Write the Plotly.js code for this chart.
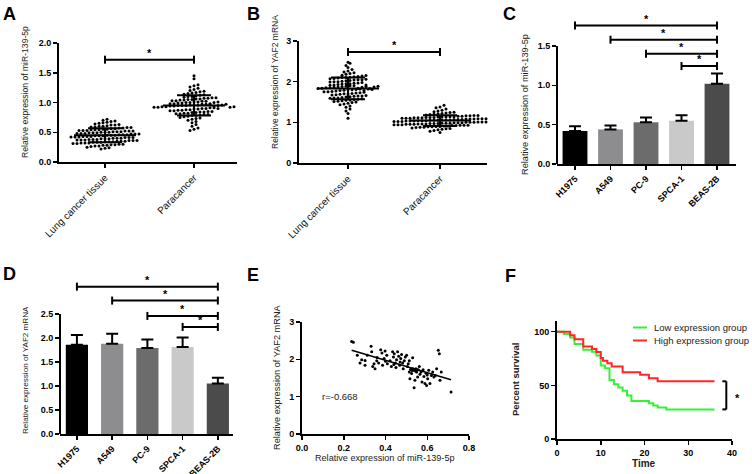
<!DOCTYPE html>
<html><head><meta charset="utf-8">
<script src="https://cdn.plot.ly/plotly-3.0.1.min.js"></script>
<style>html,body{margin:0;padding:0;background:#fff}#plot{width:752px;height:474px}</style>
</head><body><div id="plot"></div>
<script>
// ---------------- DATA ----------------
const groupLabels = ['Lung cancer tissue', 'Paracancer'];
const miR_lung = [0.22,0.23,0.24,0.25,0.26,0.27,0.27,0.28,0.28,0.29,
  0.29,0.30,0.30,0.31,0.31,0.32,0.32,0.32,0.33,0.33,
  0.33,0.34,0.34,0.34,0.35,0.35,0.35,0.36,0.36,0.36,
  0.37,0.37,0.37,0.38,0.38,0.38,0.39,0.39,0.39,0.40,
  0.40,0.40,0.41,0.41,0.41,0.42,0.42,0.42,0.43,0.43,
  0.43,0.44,0.44,0.44,0.45,0.45,0.45,0.46,0.46,0.46,
  0.47,0.47,0.47,0.48,0.48,0.48,0.49,0.49,0.49,0.50,
  0.50,0.50,0.51,0.51,0.51,0.52,0.52,0.52,0.53,0.53,
  0.53,0.54,0.54,0.54,0.55,0.55,0.56,0.56,0.57,0.57,
  0.58,0.58,0.59,0.59,0.60,0.60,0.61,0.62,0.62,0.63,
  0.64,0.65,0.66,0.67,0.68,0.69,0.70,0.72];
const miR_para = [0.53,0.55,0.57,0.60,0.63,0.66,0.68,0.70,0.72,0.73,
  0.74,0.75,0.76,0.77,0.78,0.78,0.79,0.80,0.80,0.81,
  0.81,0.82,0.82,0.83,0.83,0.84,0.84,0.85,0.85,0.86,
  0.86,0.87,0.87,0.88,0.88,0.89,0.89,0.90,0.90,0.91,
  0.91,0.92,0.92,0.93,0.93,0.94,0.94,0.95,0.95,0.95,
  0.96,0.96,0.96,0.97,0.97,0.97,0.98,0.98,0.99,0.99,
  1.00,1.00,1.01,1.01,1.02,1.02,1.03,1.03,1.04,1.04,
  1.05,1.05,1.06,1.06,1.07,1.07,1.08,1.08,1.09,1.10,
  1.10,1.11,1.12,1.13,1.14,1.15,1.16,1.17,1.18,1.19,
  1.20,1.22,1.24,1.26,1.28,1.30,1.40,1.45,0.94,0.95,
  0.96,0.97,0.98,0.92,0.93,1.00,1.01,0.90];
const yaf2_lung = [1.10,1.22,1.28,1.33,1.37,1.40,1.43,1.45,1.47,1.49,
  1.50,1.51,1.52,1.53,1.54,1.55,1.56,1.57,1.58,1.59,
  1.60,1.60,1.61,1.62,1.63,1.64,1.65,1.65,1.66,1.67,
  1.68,1.69,1.70,1.70,1.71,1.72,1.73,1.74,1.75,1.75,
  1.76,1.77,1.78,1.79,1.80,1.80,1.81,1.82,1.83,1.84,
  1.85,1.85,1.86,1.87,1.88,1.89,1.90,1.90,1.91,1.92,
  1.93,1.94,1.95,1.95,1.96,1.97,1.98,1.99,2.00,2.00,
  2.01,2.02,2.03,2.04,2.05,2.05,2.06,2.07,2.08,2.09,
  2.10,2.10,2.11,2.12,2.13,2.14,2.15,2.16,2.18,2.20,
  2.22,2.24,2.26,2.30,2.35,2.40,2.45,2.48,1.78,1.82,
  1.84,1.86,1.88,1.92,1.83,1.87,1.81,1.89];
const yaf2_para = [0.75,0.78,0.80,0.82,0.83,0.84,0.85,0.86,0.87,0.88,
  0.88,0.89,0.89,0.90,0.90,0.91,0.91,0.92,0.92,0.93,
  0.93,0.93,0.94,0.94,0.94,0.95,0.95,0.95,0.96,0.96,
  0.96,0.97,0.97,0.97,0.98,0.98,0.98,0.99,0.99,0.99,
  1.00,1.00,1.00,1.01,1.01,1.01,1.02,1.02,1.02,1.03,
  1.03,1.03,1.04,1.04,1.04,1.05,1.05,1.05,1.06,1.06,
  1.06,1.07,1.07,1.07,1.08,1.08,1.08,1.09,1.09,1.09,
  1.10,1.10,1.10,1.11,1.11,1.11,1.12,1.12,1.12,1.13,
  1.13,1.13,1.14,1.14,1.15,1.15,1.16,1.16,1.17,1.17,
  1.18,1.19,1.20,1.21,1.22,1.23,1.24,1.25,1.26,1.28,
  1.30,1.33,1.36,1.38,1.42];

const cellLines = ['H1975', 'A549', 'PC-9', 'SPCA-1', 'BEAS-2B'];
const cellColors = ['#000000', '#8d8d8f', '#6c6c6c', '#c9c9c9', '#4b4b4b'];
const miR_cell_mean = [0.42, 0.44, 0.53, 0.55, 1.02];
const miR_cell_err  = [0.06, 0.05, 0.06, 0.07, 0.13];
const yaf2_cell_mean = [1.86, 1.88, 1.79, 1.81, 1.05];
const yaf2_cell_err  = [0.20, 0.21, 0.18, 0.20, 0.12];
// significance brackets (from group index -> BEAS-2B) and their heights
const bracketFrom = [0, 1, 2, 3];
const bracketC_h = [1.76, 1.58, 1.40, 1.245];
const bracketD_h = [3.07, 2.78, 2.46, 2.23];

const corr_miR = [0.238,0.246,0.265,0.278,0.286,0.302,0.313,0.331,0.334,0.339,
  0.345,0.358,0.367,0.377,0.383,0.386,0.393,0.398,0.406,0.409,
  0.422,0.428,0.434,0.438,0.442,0.447,0.450,0.453,0.458,0.463,
  0.468,0.473,0.477,0.482,0.485,0.490,0.495,0.501,0.505,0.509,
  0.514,0.517,0.522,0.525,0.529,0.533,0.537,0.541,0.546,0.549,
  0.554,0.557,0.562,0.565,0.570,0.575,0.580,0.584,0.589,0.594,
  0.597,0.602,0.607,0.613,0.620,0.626,0.632,0.639,0.645,0.653,
  0.658,0.661,0.667,0.714,0.514,0.530,0.302,0.350,0.520,0.528,
  0.535,0.543,0.550,0.470,0.440,0.400,0.360,0.600];
const corr_yaf2 = [2.48,2.46,2.11,1.90,1.99,1.97,2.11,2.35,2.20,1.81,
  1.88,1.96,1.90,2.26,2.17,1.84,2.02,2.22,2.11,1.88,
  1.96,1.81,2.20,2.06,2.15,1.90,1.78,1.99,2.20,2.08,
  1.84,2.02,2.13,1.90,1.75,1.96,2.06,2.11,1.81,1.88,
  1.66,1.48,1.72,1.62,1.75,1.71,1.24,1.44,1.75,1.66,
  1.53,1.72,1.81,1.60,1.66,1.39,1.72,1.54,1.35,1.63,
  1.30,1.48,1.71,1.35,1.57,1.66,1.53,1.57,1.75,2.24,
  2.15,1.44,1.66,1.125,1.96,2.04,1.84,1.75,1.73,1.70,
  1.74,1.69,1.72,1.93,1.86,1.95,2.05,1.58];
const corr_label = 'r=-0.668';

const km_low_t  = [0, 1.6, 3, 4, 6, 8, 9, 10, 11, 12, 13, 14, 15, 16, 17, 21, 22, 23, 25, 36];
const km_low_s  = [100, 97.8, 94.7, 88.5, 83.2, 81.3, 77.9, 68.5, 66.0, 55.0, 51.0, 48.0, 44.9, 40.5, 35.5, 33.3, 31.2, 29.3, 27.6, 27.6];
const km_high_t = [0, 3, 4, 6, 8, 9, 10, 10.5, 11.5, 12.5, 15, 19, 21, 23, 36];
const km_high_s = [100, 96.6, 93.1, 86.3, 83.8, 81.0, 75.4, 72.9, 70.7, 67.6, 62.3, 59.8, 56.7, 53.8, 53.8];
const km_names = ['Low expression group', 'High expression group'];

// ---------------- HELPERS ----------------
const W = 752, H = 474;
const FONT = 'Liberation Sans, Arial, sans-serif';
const xd = (l, r) => [l / W, r / W];
const yd = (t, b) => [1 - b / H, 1 - t / H];
const mean = a => a.reduce((s, v) => s + v, 0) / a.length;
const sd = a => { const m = mean(a); return Math.sqrt(a.reduce((s, v) => s + (v - m) * (v - m), 0) / (a.length - 1)); };

function axis(o) {
  return Object.assign({showgrid:false, zeroline:false, showline:true, linecolor:'#000', linewidth:2,
    ticks:'outside', ticklen:4, tickwidth:1.5, tickcolor:'#000', fixedrange:true,
    tickfont:{family:FONT, size:9, color:'#000', weight:'bold'}}, o);
}

// panel geometry (pixels)
const P = {
  A:{l:59, r:237, t:43, b:162, xr:[-0.517,1.483], yr:[0,2]},
  B:{l:299, r:487, t:41, b:163, xr:[-0.533,1.511], yr:[0,3]},
  C:{l:557, r:736, t:10, b:164, xr:[-0.507,4.535], yr:[0,1.9576]},
  D:{l:60, r:233, t:270, b:434, xr:[-0.48,4.43], yr:[0,3.4167]},
  E:{l:302, r:469, t:322, b:434, xr:[0,0.8], yr:[0,3]},
  F:{l:557, r:732, t:321, b:439, xr:[0,40], yr:[0,110]}
};
const ux = p => (p.r - p.l) / (p.xr[1] - p.xr[0]);
const uy = p => (p.b - p.t) / (p.yr[1] - p.yr[0]);

function swarm(vals, center, p, binPx, gapPx) {
  const bins = new Map();
  vals.forEach(v => { const k = Math.round(v * uy(p) / binPx); if (!bins.has(k)) bins.set(k, []); bins.get(k).push(v); });
  const xs = [], ys = [];
  bins.forEach(arr => { const n = arr.length; arr.forEach((v, i) => { xs.push(center + (i - (n - 1) / 2) * gapPx / ux(p)); ys.push(v); }); });
  return {xs, ys};
}

const traces = [], shapes = [], annotations = [];
const LINE = {color:'#000', width:2};
const STARFONT = {family:FONT, size:11, color:'#000', weight:'bold'};

function dotPanel(groups, p, xa, ya) {
  groups.forEach((g, i) => {
    const s = swarm(g, i, p, 3.3, 4.0);
    traces.push({type:'scatter', mode:'markers', x:s.xs, y:s.ys, xaxis:xa, yaxis:ya,
      marker:{size:3, color:'#000'}, hoverinfo:'skip', cliponaxis:false});
  });
  const hw = 31 / ux(p);
  const mx = [], my = [];
  groups.forEach((g, i) => { const m = mean(g); mx.push(i - hw, i + hw, null); my.push(m, m, null); });
  traces.push({type:'scatter', mode:'lines', x:mx, y:my, xaxis:xa, yaxis:ya, line:{color:'#000', width:2}, hoverinfo:'skip'});
  traces.push({type:'scatter', mode:'markers', x:groups.map((g, i) => i), y:groups.map(mean), xaxis:xa, yaxis:ya,
    marker:{size:1, color:'rgba(0,0,0,0)'}, hoverinfo:'skip',
    error_y:{type:'data', array:groups.map(sd), color:'#000', thickness:2, width:17}});
}

function bracket(xr, yr, a, b, h) {
  shapes.push({type:'line', xref:xr, yref:yr, x0:a, x1:b, y0:h, y1:h, line:LINE});
  [a, b].forEach(x => shapes.push({type:'line', xref:xr, yref:yr, x0:x, x1:x, ysizemode:'pixel', yanchor:h, y0:-4, y1:4, line:LINE}));
  annotations.push({xref:xr, yref:yr, x:(a + b) / 2, y:h, text:'*', showarrow:false, yanchor:'bottom', yshift:-1, font:STARFONT});
}

function barPanel(means, errs, p, xa, ya, width) {
  traces.push({type:'bar', x:cellLines.map((c, i) => i), y:means, xaxis:xa, yaxis:ya, width:width,
    marker:{color:cellColors, line:{width:0}}, hoverinfo:'skip',
    error_y:{type:'data', symmetric:false, array:errs, arrayminus:errs.map(() => 0), color:'#000', thickness:2, width:6}});
}

// ---- A ----
dotPanel([miR_lung, miR_para], P.A, 'x', 'y');
bracket('x', 'y', 0, 1, 1.72);
// ---- B ----
dotPanel([yaf2_lung, yaf2_para], P.B, 'x2', 'y2');
bracket('x2', 'y2', 0, 1, 2.73);
// ---- C ----
barPanel(miR_cell_mean, miR_cell_err, P.C, 'x3', 'y3', 0.70);
bracketFrom.forEach((a, i) => bracket('x3', 'y3', a, 4, bracketC_h[i]));
shapes.push({type:'line', xref:'x3 domain', yref:'y3', x0:0, x1:0, y0:0, y1:1.5, line:LINE});
// ---- D ----
barPanel(yaf2_cell_mean, yaf2_cell_err, P.D, 'x4', 'y4', 0.63);
bracketFrom.forEach((a, i) => bracket('x4', 'y4', a, 4, bracketD_h[i]));
shapes.push({type:'line', xref:'x4 domain', yref:'y4', x0:0, x1:0, y0:0, y1:2.5, line:LINE});
// ---- E ----
traces.push({type:'scatter', mode:'markers', x:corr_miR, y:corr_yaf2, xaxis:'x5', yaxis:'y5',
  marker:{size:3, color:'#000'}, hoverinfo:'skip'});
(function () {
  const mx = mean(corr_miR), my = mean(corr_yaf2);
  let sxy = 0, sxx = 0;
  corr_miR.forEach((x, i) => { sxy += (x - mx) * (corr_yaf2[i] - my); sxx += (x - mx) * (x - mx); });
  const slope = sxy / sxx, icpt = my - slope * mx;
  const x0 = Math.min(...corr_miR), x1 = Math.max(...corr_miR);
  traces.push({type:'scatter', mode:'lines', x:[x0, x1], y:[icpt + slope * x0, icpt + slope * x1],
    xaxis:'x5', yaxis:'y5', line:{color:'#000', width:1.5}, hoverinfo:'skip'});
})();
annotations.push({xref:'x5', yref:'y5', x:0.088, y:1.01, text:corr_label, showarrow:false, xanchor:'left', yanchor:'middle',
  font:{family:FONT, size:9.5, color:'#222'}});
// ---- F ----
traces.push({type:'scatter', mode:'lines', x:km_low_t, y:km_low_s, xaxis:'x6', yaxis:'y6',
  line:{color:'#38ef38', width:2, shape:'hv'}, hoverinfo:'skip', name:km_names[0]});
traces.push({type:'scatter', mode:'lines', x:km_high_t, y:km_high_s, xaxis:'x6', yaxis:'y6',
  line:{color:'#ff2626', width:2, shape:'hv'}, hoverinfo:'skip', name:km_names[1]});
(function () {
  const hi = km_high_s[km_high_s.length - 1], lo = km_low_s[km_low_s.length - 1];
  const xv = 38.7, xt = 37.8;
  shapes.push({type:'line', xref:'x6', yref:'y6', x0:xv, x1:xv, y0:lo, y1:hi, line:LINE});
  shapes.push({type:'line', xref:'x6', yref:'y6', x0:xt, x1:xv, y0:lo, y1:lo, line:LINE});
  shapes.push({type:'line', xref:'x6', yref:'y6', x0:xt, x1:xv, y0:hi, y1:hi, line:LINE});
})();
annotations.push({xref:'paper', yref:'paper', x:737 / W, y:1 - 395 / H, text:'*', showarrow:false, xanchor:'center', yanchor:'middle', yshift:-3,
  font:STARFONT});
// legend
[[km_names[0], '#38ef38', 327.5], [km_names[1], '#ff2626', 340.5]].forEach(([t, c, py]) => {
  shapes.push({type:'line', xref:'paper', yref:'paper', x0:633 / W, x1:647 / W, y0:1 - py / H, y1:1 - py / H, line:{color:c, width:2}});
  annotations.push({xref:'paper', yref:'paper', x:652 / W, y:1 - py / H, text:t, showarrow:false, xanchor:'left', yanchor:'middle',
    font:{family:FONT, size:9.5, color:'#222'}});
});

// ---- titles & letters ----
function ytitle(text, px, py, size, bold) {
  annotations.push({xref:'paper', yref:'paper', x:px / W, y:1 - py / H, text:text, textangle:-90, showarrow:false,
    xanchor:'center', yanchor:'middle', font:{family:FONT, size:size, color:'#222', weight:bold ? 'bold' : 'normal'}});
}
function xtitle(text, px, py, size, bold) {
  annotations.push({xref:'paper', yref:'paper', x:px / W, y:1 - py / H, text:text, showarrow:false,
    xanchor:'center', yanchor:'middle', font:{family:FONT, size:size, color:'#222', weight:bold ? 'bold' : 'normal'}});
}
ytitle('Relative expression of miR-139-5p', 25, 92, 8.6);
ytitle('Relative expression of YAF2 mRNA', 275, 82, 8.5);
ytitle('Relative expression of miR-139-5p', 525, 105, 9.2);
ytitle('Relative expression of YAF2 mRNA', 25, 370, 8.1);
ytitle('Relative expression of YAF2 mRNA', 277, 377, 9.2);
xtitle('Relative expression of miR-139-5p', 385, 458, 9.1);
ytitle('Percent survival', 515, 380, 9.5, true);
xtitle('Time', 644, 463, 10, true);
[['A', 9, 14], ['B', 253, 14], ['C', 509, 14], ['D', 9, 274], ['E', 253, 275], ['F', 510, 276]].forEach(([t, x, y]) => {
  annotations.push({xref:'paper', yref:'paper', x:x / W, y:1 - y / H, text:t, showarrow:false, xanchor:'center', yanchor:'middle',
    font:{family:FONT, size:18, color:'#000', weight:'bold'}});
});

// ---------------- LAYOUT ----------------
const catFont = {family:FONT, size:10, color:'#111', weight:'normal'};
const catFontB = {family:FONT, size:9, color:'#000', weight:'bold'};
const layout = {
  width:W, height:H, margin:{l:0, r:0, t:0, b:0}, showlegend:false,
  paper_bgcolor:'#fff', plot_bgcolor:'rgba(0,0,0,0)', font:{family:FONT},
  xaxis: axis({domain:xd(P.A.l, P.A.r), range:P.A.xr, anchor:'y', tickvals:[0, 1], ticktext:groupLabels, tickangle:-45, tickfont:catFont}),
  yaxis: axis({domain:yd(P.A.t, P.A.b), range:P.A.yr, anchor:'x', tickvals:[0, 0.5, 1, 1.5, 2], tickformat:'.1f'}),
  xaxis2: axis({domain:xd(P.B.l, P.B.r), range:P.B.xr, anchor:'y2', tickvals:[0, 1], ticktext:groupLabels, tickangle:-45, tickfont:catFont}),
  yaxis2: axis({domain:yd(P.B.t, P.B.b), range:P.B.yr, anchor:'x2', tickvals:[0, 1, 2, 3]}),
  xaxis3: axis({domain:xd(P.C.l, P.C.r), range:P.C.xr, anchor:'y3', tickvals:[0, 1, 2, 3, 4], ticktext:cellLines, tickangle:-45, tickfont:catFontB}),
  yaxis3: axis({domain:yd(P.C.t, P.C.b), range:P.C.yr, anchor:'x3', tickvals:[0, 0.5, 1, 1.5], tickformat:'.1f', showline:false}),
  xaxis4: axis({domain:xd(P.D.l, P.D.r), range:P.D.xr, anchor:'y4', tickvals:[0, 1, 2, 3, 4], ticktext:cellLines, tickangle:-45, tickfont:catFontB}),
  yaxis4: axis({domain:yd(P.D.t, P.D.b), range:P.D.yr, anchor:'x4', tickvals:[0, 0.5, 1, 1.5, 2, 2.5], tickformat:'.1f', showline:false}),
  xaxis5: axis({domain:xd(P.E.l, P.E.r), range:P.E.xr, anchor:'y5', tickvals:[0, 0.2, 0.4, 0.6, 0.8], tickformat:'.1f'}),
  yaxis5: axis({domain:yd(P.E.t, P.E.b), range:P.E.yr, anchor:'x5', tickvals:[0, 1, 2, 3]}),
  xaxis6: axis({domain:xd(P.F.l, P.F.r), range:P.F.xr, anchor:'y6', tickvals:[0, 10, 20, 30, 40]}),
  yaxis6: axis({domain:yd(P.F.t, P.F.b), range:P.F.yr, anchor:'x6', tickvals:[0, 50, 100]}),
  shapes:shapes, annotations:annotations
};
Plotly.newPlot('plot', traces, layout, {staticPlot:true, displayModeBar:false});
</script></body></html>
